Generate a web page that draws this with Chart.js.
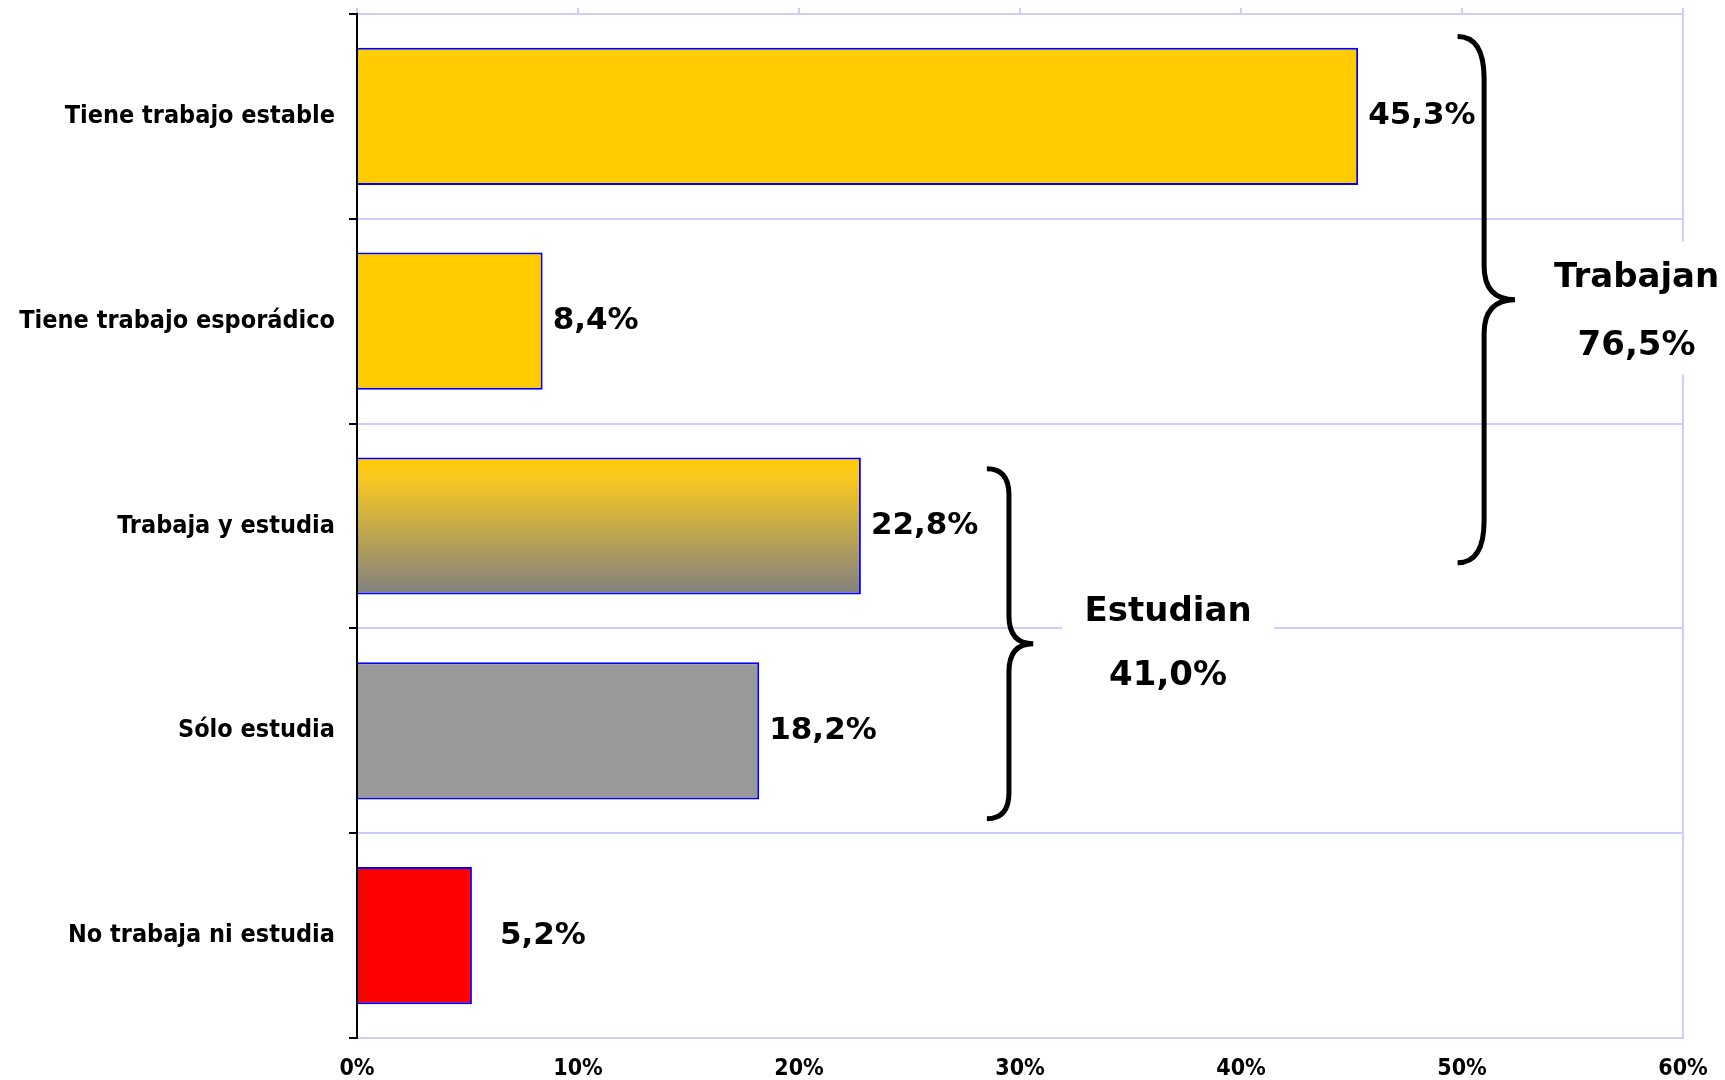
<!DOCTYPE html>
<html>
<head>
<meta charset="utf-8">
<script src="https://cdn.jsdelivr.net/npm/chart.js@4"></script>
<style>
  html, body { margin: 0; padding: 0; background: #fff; }
  canvas { display: block; }
</style>
</head>
<body>
<canvas id="chart" width="1725" height="1080"></canvas>
<script>
const categories = ['Tiene trabajo estable', 'Tiene trabajo esporádico', 'Trabaja y estudia', 'Sólo estudia', 'No trabaja ni estudia'];
const values = [45.3, 8.4, 22.8, 18.2, 5.2];
const barColors = ['#FFCC00', '#FFCC00', 'gradient', '#999999', '#FF0000'];
const xMax = 60;
const xStep = 10;
// groups of categories summed for the braces
const groupNames = ['Trabajan', 'Estudian'];
const groupMembers = [[0, 1, 2], [2, 3]];

const lavender = '#CCCCFF';
const labelFont = '"DejaVu Sans Condensed", "DejaVu Sans", sans-serif';
const valueFont = '"DejaVu Sans", sans-serif';
const barPct = 0.67;

function fmt(v) {
    return v.toFixed(1).replace('.', ',') + '%';
}

// brace / text placement in axis units (x in %, y in category index)
const groupLayout = [
    { x0: 49.8, x1: 51.0, x2: 52.4, yTop: -0.39, yBot: 2.18, rEnd: 42, rMid: 34,
      textX: 57.9, titleY: 0.79, totalY: 1.12, box: [53.6, 0.61, 70, 1.26] },
    { x0: 28.5, x1: 29.5, x2: 30.6, yTop: 1.72, yBot: 3.43, rEnd: 26, rMid: 28,
      textX: 36.7, titleY: 2.42, totalY: 2.735, box: [31.9, 2.29, 41.5, 2.87] }
];
const labelGap = [10, 10, 10, 10, 28];

const annotations = {
    id: 'annotations',
    afterDatasetsDraw(chart) {
        const { ctx, scales: { x, y } } = chart;
        const meta = chart.getDatasetMeta(0);
        ctx.save();
        ctx.fillStyle = '#000';
        ctx.textBaseline = 'middle';
        ctx.font = 'bold 31px ' + valueFont;
        meta.data.forEach((bar, i) => {
            ctx.fillText(fmt(values[i]), bar.x + labelGap[i], bar.y);
        });

        groupNames.forEach((name, g) => {
            const L = groupLayout[g];
            const total = groupMembers[g].reduce((s, i) => s + values[i], 0);
            // white box behind the text
            const bx0 = x.getPixelForValue(L.box[0]);
            const bx1 = Math.min(x.getPixelForValue(L.box[2]), chart.width);
            const by0 = y.getPixelForValue(L.box[1]);
            const by1 = y.getPixelForValue(L.box[3]);
            ctx.fillStyle = '#fff';
            ctx.fillRect(bx0, by0, bx1 - bx0, by1 - by0);

            // curly brace
            const px0 = x.getPixelForValue(L.x0);
            const px1 = x.getPixelForValue(L.x1);
            const px2 = x.getPixelForValue(L.x2);
            const top = y.getPixelForValue(L.yTop);
            const bot = y.getPixelForValue(L.yBot);
            const mid = (top + bot) / 2;
            ctx.strokeStyle = '#000';
            ctx.lineWidth = 5;
            ctx.beginPath();
            ctx.moveTo(px0, top);
            ctx.quadraticCurveTo(px1, top, px1, top + L.rEnd);
            ctx.lineTo(px1, mid - L.rMid);
            ctx.quadraticCurveTo(px1, mid, px2, mid);
            ctx.quadraticCurveTo(px1, mid, px1, mid + L.rMid);
            ctx.lineTo(px1, bot - L.rEnd);
            ctx.quadraticCurveTo(px1, bot, px0, bot);
            ctx.stroke();

            ctx.fillStyle = '#000';
            ctx.textAlign = 'center';
            ctx.font = 'bold 34px ' + valueFont;
            const tx = x.getPixelForValue(L.textX);
            ctx.fillText(name, tx, y.getPixelForValue(L.titleY));
            ctx.fillText(fmt(total), tx, y.getPixelForValue(L.totalY));
            ctx.textAlign = 'left';
        });
        ctx.restore();
    }
};

function barFill(context) {
    const c = barColors[context.dataIndex];
    if (c !== 'gradient') return c;
    const chart = context.chart;
    if (!chart.chartArea) return '#FFCC00';
    const yScale = chart.scales.y;
    const center = yScale.getPixelForValue(context.dataIndex);
    const half = yScale.height / categories.length * barPct / 2;
    const grad = chart.ctx.createLinearGradient(0, center - half, 0, center + half);
    grad.addColorStop(0, '#FFCC00');
    grad.addColorStop(0.15, '#F8C820');
    grad.addColorStop(1, '#808080');
    return grad;
}

new Chart(document.getElementById('chart'), {
    type: 'bar',
    data: {
        labels: categories,
        datasets: [{
            data: values,
            backgroundColor: barFill,
            borderColor: '#0000FF',
            borderWidth: 2,
            barPercentage: barPct,
            categoryPercentage: 1,
            xAxisID: 'x',
            yAxisID: 'y'
        }]
    },
    options: {
        indexAxis: 'y',
        responsive: false,
        animation: false,
        layout: { padding: { right: 42, top: 0, left: 0, bottom: 0 } },
        plugins: {
            legend: { display: false },
            tooltip: { enabled: false }
        },
        scales: {
            x: {
                position: 'bottom',
                min: 0,
                max: xMax,
                ticks: {
                    stepSize: xStep,
                    callback: v => v + '%',
                    color: '#000',
                    padding: 17,
                    maxRotation: 0,
                    font: { family: labelFont, size: 23, weight: 'bold' }
                },
                grid: {
                    color: ctx => (ctx.tick && ctx.tick.value === xMax) ? lavender : 'rgba(0,0,0,0)',
                    lineWidth: 2,
                    drawTicks: false
                },
                border: { color: lavender, width: 2 },
                afterFit: s => { s.height = 42; s.paddingLeft = 0; s.paddingRight = 0; }
            },
            x2: {
                axis: 'x',
                position: 'top',
                min: 0,
                max: xMax,
                ticks: { display: false, stepSize: xStep },
                grid: { drawOnChartArea: false, tickLength: 6, color: lavender, lineWidth: 2 },
                border: { color: lavender, width: 2 },
                afterFit: s => { s.height = 14; s.paddingLeft = 0; s.paddingRight = 0; }
            },
            y: {
                ticks: {
                    color: '#000',
                    padding: 14,
                    font: { family: labelFont, size: 25, weight: 'bold' }
                },
                grid: {
                    color: lavender,
                    lineWidth: 2,
                    tickColor: '#000',
                    tickLength: 8,
                    tickWidth: 2,
                    offset: true
                },
                border: { color: '#000', width: 2 },
                afterFit: s => { s.width = 357; s.paddingTop = 0; s.paddingBottom = 0; }
            }
        }
    },
    plugins: [annotations]
});
</script>
</body>
</html>
